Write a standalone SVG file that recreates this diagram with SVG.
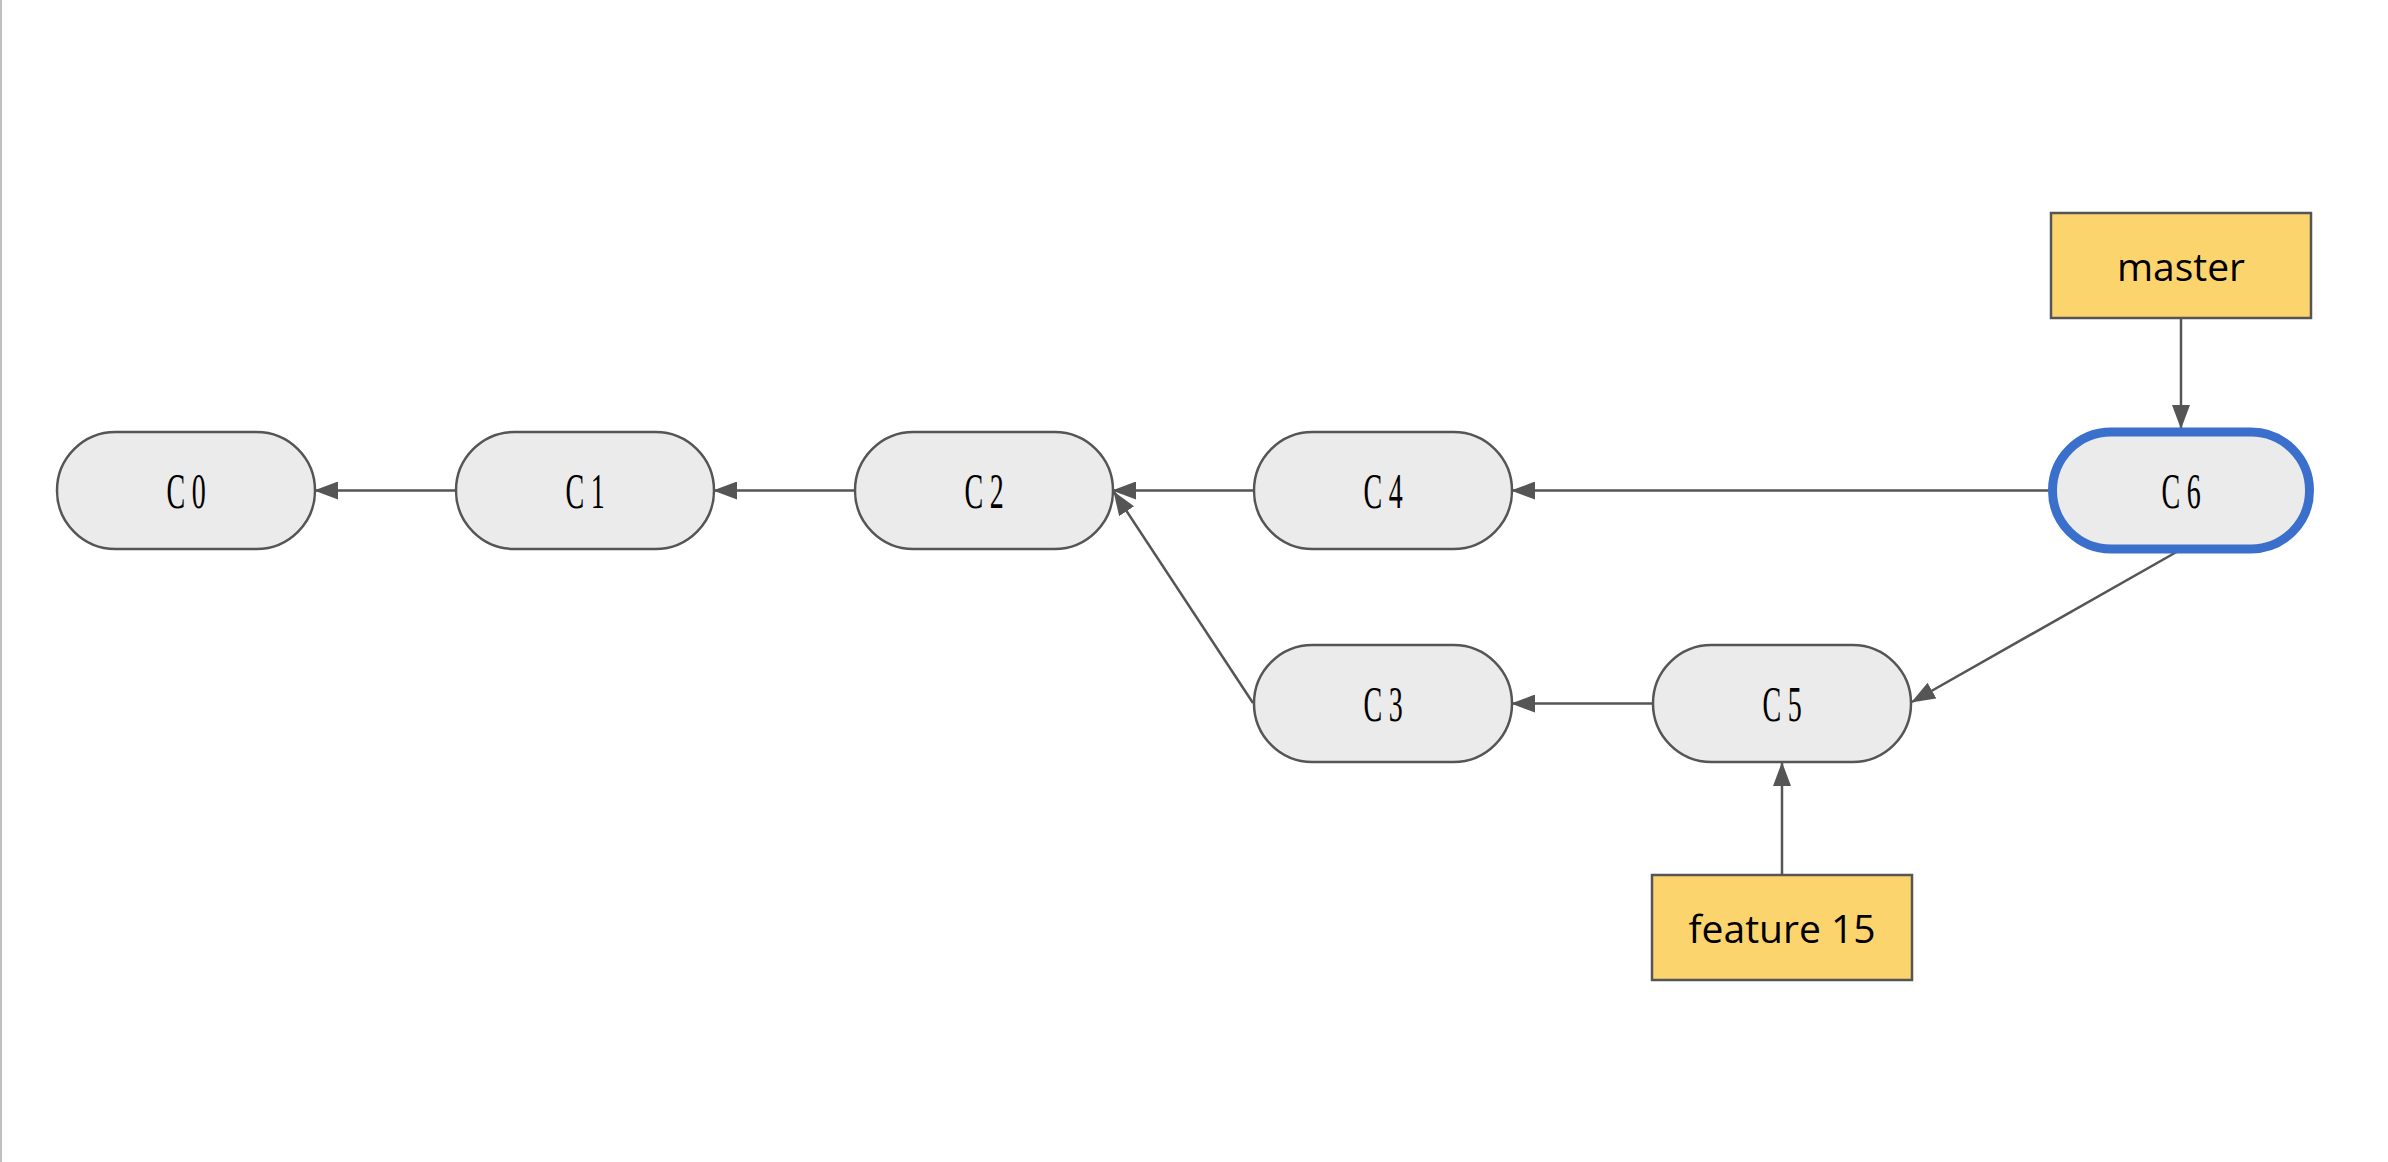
<svg xmlns="http://www.w3.org/2000/svg" width="2388" height="1162" viewBox="0 0 2388 1162">
<style>
.commit{fill:#ebebeb;stroke:#555;stroke-width:2.5}
.head{fill:#ebebeb;stroke:#3a6fcc;stroke-width:9}
.ref{fill:#fcd46e;stroke:#555;stroke-width:2.5}
.ct{font-family:"Liberation Serif",serif;font-size:50px;fill:#000;text-anchor:middle;letter-spacing:12px}
.rt{font-family:"Open Sans","Liberation Sans",sans-serif;font-size:39px;fill:#000;text-anchor:middle}
.edge{stroke:#555;stroke-width:2.5;fill:none;marker-end:url(#arr)}
</style>
<defs>
<marker id="arr" markerUnits="userSpaceOnUse" markerWidth="24" markerHeight="18" refX="23" refY="9" orient="auto">
<path d="M0,0 L24,9 L0,18 Z" fill="#555"/>
</marker>
</defs>
<rect x="0" y="0" width="2388" height="1162" fill="#fff"/>
<rect x="0" y="0" width="2" height="1162" fill="#c0c0c0"/>
<g id="connectors">
<line class="edge" x1="456" y1="490.5" x2="315" y2="490.5"/>
<line class="edge" x1="855" y1="490.5" x2="714" y2="490.5"/>
<line class="edge" x1="1254" y1="490.5" x2="1113" y2="490.5"/>
<line class="edge" x1="2048" y1="490.5" x2="1512" y2="490.5"/>
<line class="edge" x1="1253" y1="703" x2="1114" y2="492"/>
<line class="edge" x1="1653" y1="703.5" x2="1512" y2="703.5"/>
<line class="edge" x1="2180" y1="550" x2="1912" y2="702"/>
<line class="edge" x1="1782" y1="875" x2="1782" y2="763"/>
<line class="edge" x1="2181" y1="318" x2="2181" y2="428"/>
</g>
<g id="C0">
<rect class="commit" x="57" y="432" width="258" height="117" rx="58.5"/>
<text class="ct" transform="translate(189.5,508) scale(0.56,1)">C0</text>
</g>
<g id="C1">
<rect class="commit" x="456" y="432" width="258" height="117" rx="58.5"/>
<text class="ct" transform="translate(588.5,508) scale(0.56,1)">C1</text>
</g>
<g id="C2">
<rect class="commit" x="855" y="432" width="258" height="117" rx="58.5"/>
<text class="ct" transform="translate(987.5,508) scale(0.56,1)">C2</text>
</g>
<g id="C4">
<rect class="commit" x="1254" y="432" width="258" height="117" rx="58.5"/>
<text class="ct" transform="translate(1386.5,508) scale(0.56,1)">C4</text>
</g>
<g id="C6">
<rect class="head" x="2052.5" y="432" width="257" height="117" rx="58.5"/>
<text class="ct" transform="translate(2184.5,508) scale(0.56,1)">C6</text>
</g>
<g id="C3">
<rect class="commit" x="1254" y="645" width="258" height="117" rx="58.5"/>
<text class="ct" transform="translate(1386.5,721) scale(0.56,1)">C3</text>
</g>
<g id="C5">
<rect class="commit" x="1653" y="645" width="258" height="117" rx="58.5"/>
<text class="ct" transform="translate(1785.5,721) scale(0.56,1)">C5</text>
</g>
<g id="master">
<rect class="ref" x="2051" y="213" width="260" height="105"/>
<text class="rt" x="2181" y="281">master</text>
</g>
<g id="feature15">
<rect class="ref" x="1652" y="875" width="260" height="105"/>
<text class="rt" x="1782" y="943">feature 15</text>
</g>
</svg>
